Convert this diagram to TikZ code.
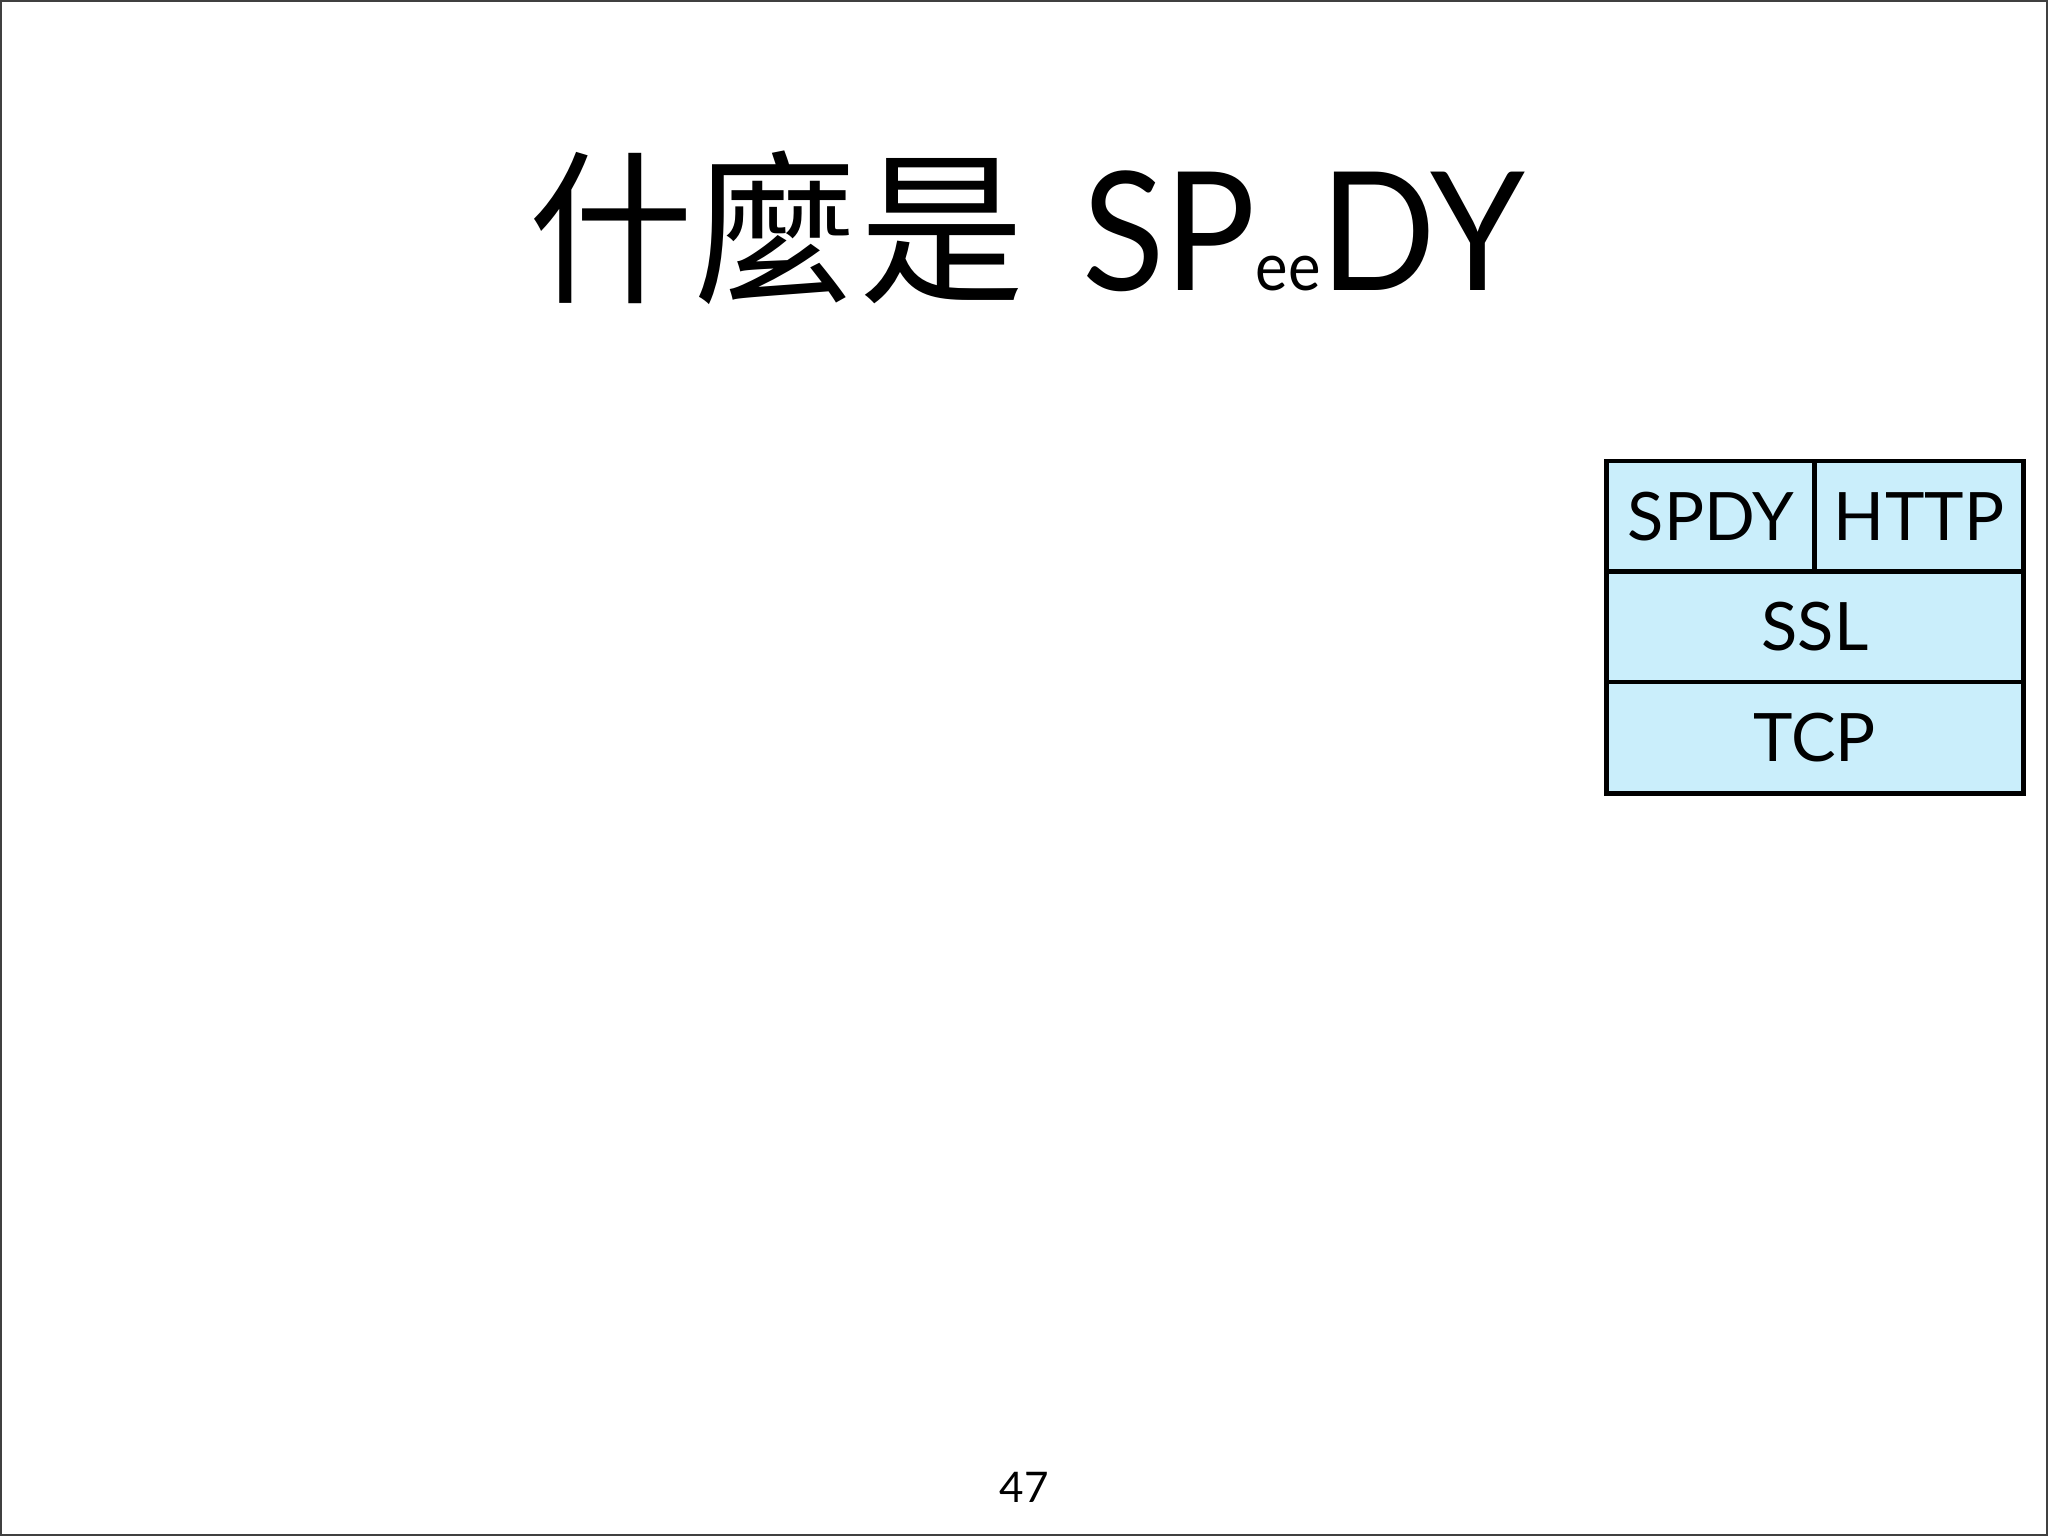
\documentclass[tikz,border=0pt]{standalone}
\usepackage{fontspec}
\setmainfont{Lato}
\newfontfamily\cjk{Noto Sans CJK TC}
\definecolor{layerblue}{RGB}{202,238,251}
\tikzset{
  layer/.style={draw=black, fill=layerblue, line width=1.4pt, inner sep=0pt, outer sep=0pt,
                minimum height=1.11cm, font=\fontsize{19}{19}\selectfont},
}
\begin{document}
\begin{tikzpicture}[x=0.01cm,y=-0.01cm]
            \useasboundingbox (0,0) rectangle (2048,1536);
            \draw[black!75, line width=0.6pt] (1,1) rectangle (2047,1535);

            \node[anchor=base, inner sep=0pt] (title) at (1027,290)
                {\fontsize{47}{47}\selectfont{\cjk 什麼是}\hspace{0.35em}\scalebox{0.92}[1]{SP{\fontsize{19}{19}\selectfont ee}DY}};

            \node[layer, minimum width=2.08cm] (spdy) at (1711,516.5) {SPDY};
            \node[layer, minimum width=2.08cm] (http) at (1919,516.5) {HTTP};
            \node[layer, minimum width=4.16cm] (ssl) at (1815,627) {SSL};
            \node[layer, minimum width=4.16cm] (tcp) at (1815,737.5) {TCP};

            \node[font=\fontsize{12}{12}\selectfont] (pagenum) at (1024,1487) {47};
        \end{tikzpicture}
\end{document}
